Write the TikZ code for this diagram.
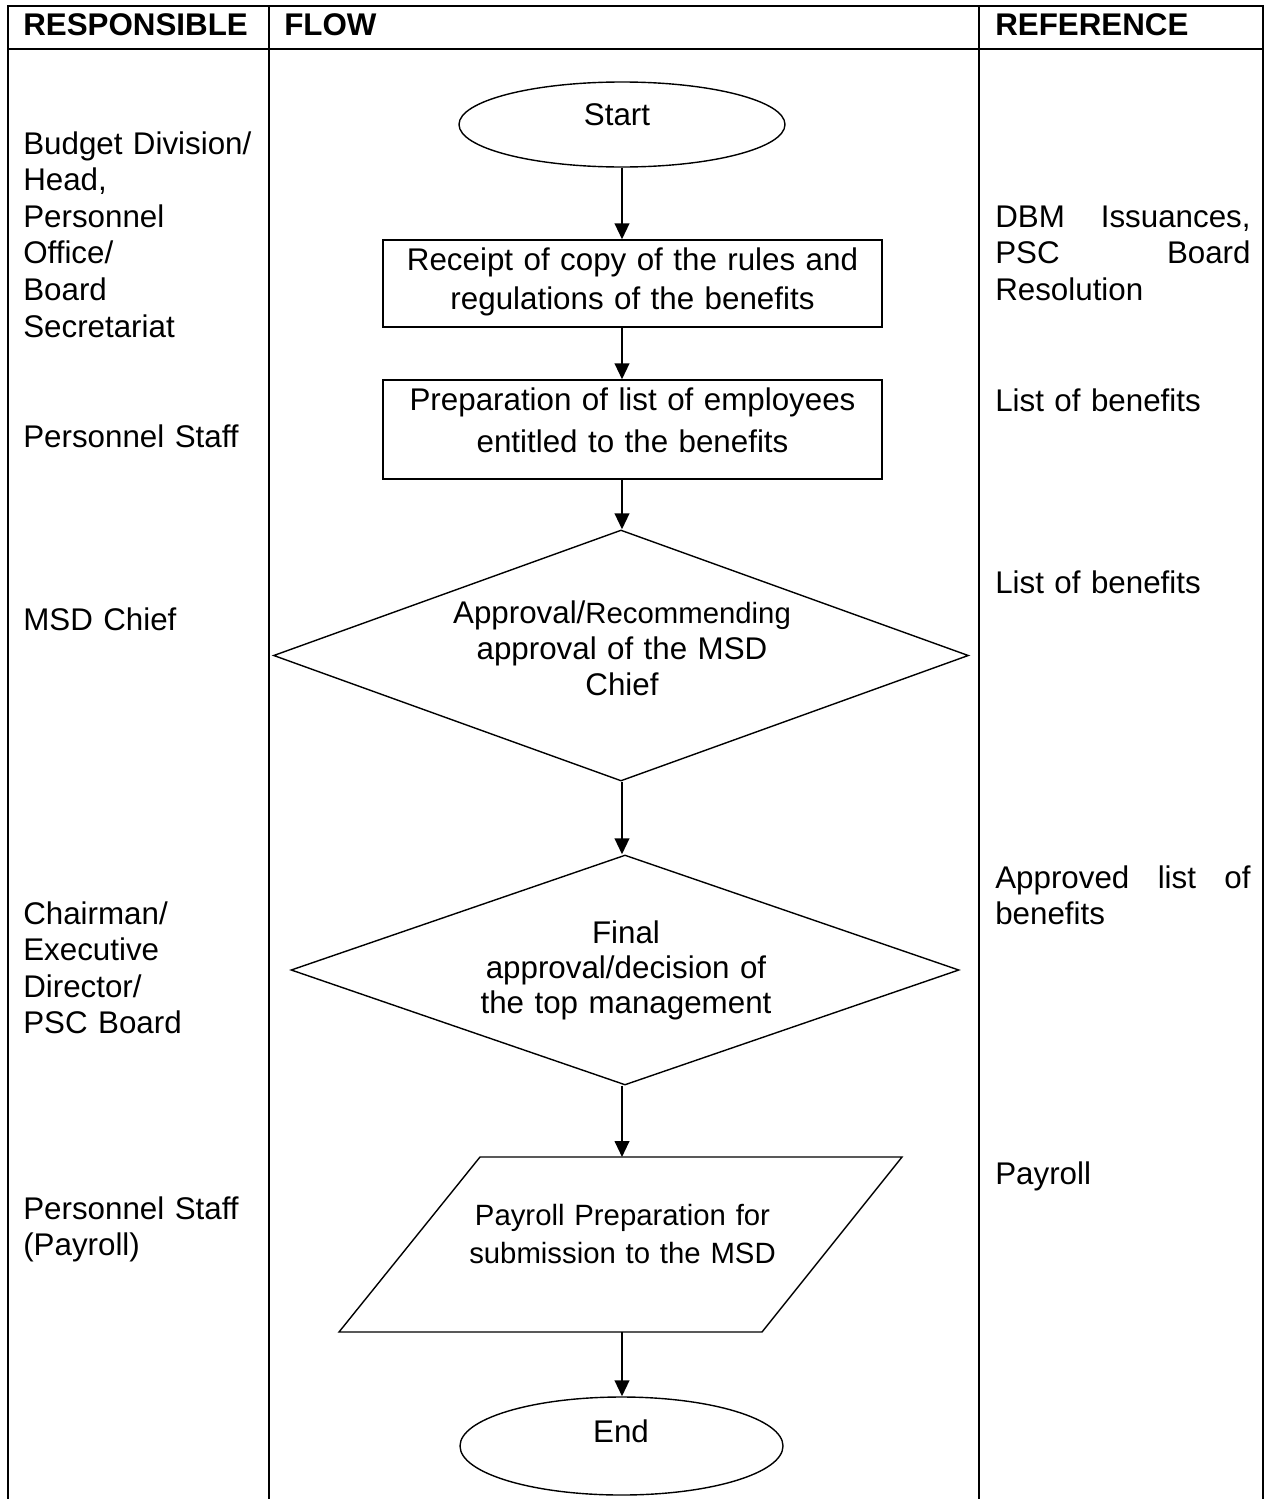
\documentclass[tikz,border=0pt]{standalone}
\usepackage{fontspec}
\setmainfont{Liberation Sans}
\usetikzlibrary{shapes.geometric,arrows.meta}

\tikzset{
  rule/.style={line width=1.5pt},
  outline/.style={draw, line width=1.05pt},
  flowarrow/.style={line width=1.5pt, -{Triangle[length=12pt,width=11pt]}},
  headtext/.style={anchor=base west, font=\fontsize{23.5}{28}\selectfont\bfseries},
  celltext/.style={anchor=base west, align=left, text width=#1,
                   font=\fontsize{23.5}{27.45}\selectfont},
  flowtext/.style 2 args={anchor=base, align=center, text width=#1,
                   font=\fontsize{23.5}{#2}\selectfont},
  smalltext/.style 2 args={anchor=base, align=center, text width=#1,
                   font=\fontsize{22}{#2}\selectfont},
}

\begin{document}
\begin{tikzpicture}[x=0.75pt, y=-0.75pt, every node/.style={inner sep=0pt}]
  % page area
  \fill[white] (0,0) rectangle (1267,1499);
  \useasboundingbox (0,0) rectangle (1267,1499);

  % table grid
  \draw[rule] (8,1499) -- (8,6) -- (1263,6) -- (1263,1499);
  \draw[rule] (8,49) -- (1263,49);
  \draw[rule] (269,6) -- (269,1499);
  \draw[rule] (979,6) -- (979,1499);

  % column headings
  \node[headtext] (h-resp) at (23,35) {RESPONSIBLE};
  \node[headtext] (h-flow) at (284,35) {FLOW};
  \node[headtext] (h-ref)  at (995,35) {REFERENCE};

  % responsible column
  \node[celltext=184pt] (r1) at (23,154)
    {Budget Division/\\Head,\\Personnel\\Office/\\Board\\Secretariat};
  \node[celltext=184pt] (r2) at (23,447) {Personnel Staff};
  \node[celltext=184pt] (r3) at (23,630) {MSD Chief};
  \node[celltext=184pt] (r4) at (23,924)
    {Chairman/\\Executive\\Director/\\PSC Board};
  \node[celltext=184pt] (r5) at (23,1219) {Personnel Staff\\(Payroll)};

  % reference column
  \node[celltext=191.5pt] (f1) at (995,227)
    {DBM\hfill Issuances,\\PSC\hfill Board\\Resolution};
  \node[celltext=191.5pt] (f2) at (995,411) {List of benefits};
  \node[celltext=191.5pt] (f3) at (995,593) {List of benefits};
  \node[celltext=191.5pt] (f4) at (995,888)
    {Approved\hfill list\hfill of\\benefits};
  \node[celltext=191.5pt] (f5) at (995,1184) {Payroll};

  % flow shapes
  \coordinate (spine) at (622,0);
  \node[ellipse, outline, minimum width=244.5pt, minimum height=63.75pt]
    (start) at (622,124.5) {};
  \node[rectangle, outline, minimum width=374.25pt, minimum height=65.25pt]
    (b1) at (632.5,283.5) {};
  \node[rectangle, outline, minimum width=374.25pt, minimum height=74.25pt]
    (b2) at (632.5,429.5) {};
  \node[diamond, outline, minimum width=521.25pt, minimum height=188.25pt]
    (d1) at (621,655.5) {};
  \node[diamond, outline, minimum width=501pt, minimum height=172.5pt]
    (d2) at (625,970) {};
  \draw[outline, line join=miter]
    (339,1332) -- (480,1157) -- (902,1157) -- (762,1332) -- cycle;
  \coordinate (payN) at (622,1157);
  \coordinate (payS) at (622,1332);
  \node[ellipse, outline, minimum width=242.25pt, minimum height=73.5pt]
    (end) at (621.5,1446) {};

  % texts inside the flow shapes
  \node[flowtext={120pt}{28pt}] (start-t) at (617,125) {Start};
  \node[flowtext={365pt}{29.25pt}] (b1-t) at (632.5,270)
    {Receipt of copy of the rules and\\regulations of the benefits};
  \node[flowtext={365pt}{31.5pt}] (b2-t) at (632.5,410)
    {Preparation of list of employees\\entitled to the benefits};
  \node[flowtext={300pt}{27pt}] (d1-t) at (622,623)
    {Approval/{\fontsize{22}{27}\selectfont Recommending}\\approval of the MSD\\Chief};
  \node[flowtext={300pt}{26.25pt}] (d2-t) at (626,943)
    {Final\\approval/decision of\\the top management};
  \node[smalltext={260pt}{28.5pt}] (pay) at (622.5,1225)
    {Payroll Preparation for\\submission to the MSD};
  \node[flowtext={120pt}{28pt}] (end-t) at (621,1442) {End};

  % connectors
  \draw[flowarrow] (start.south -| spine) -- (b1.north -| spine);
  \draw[flowarrow] (b1.south -| spine) -- (b2.north -| spine);
  \draw[flowarrow] (b2.south -| spine) -- (d1.north -| spine);
  \draw[flowarrow] (d1.south -| spine) -- (d2.north -| spine);
  \draw[flowarrow] (d2.south -| spine) -- (payN);
  \draw[flowarrow] (payS) -- (end.north -| spine);
\end{tikzpicture}
\end{document}
